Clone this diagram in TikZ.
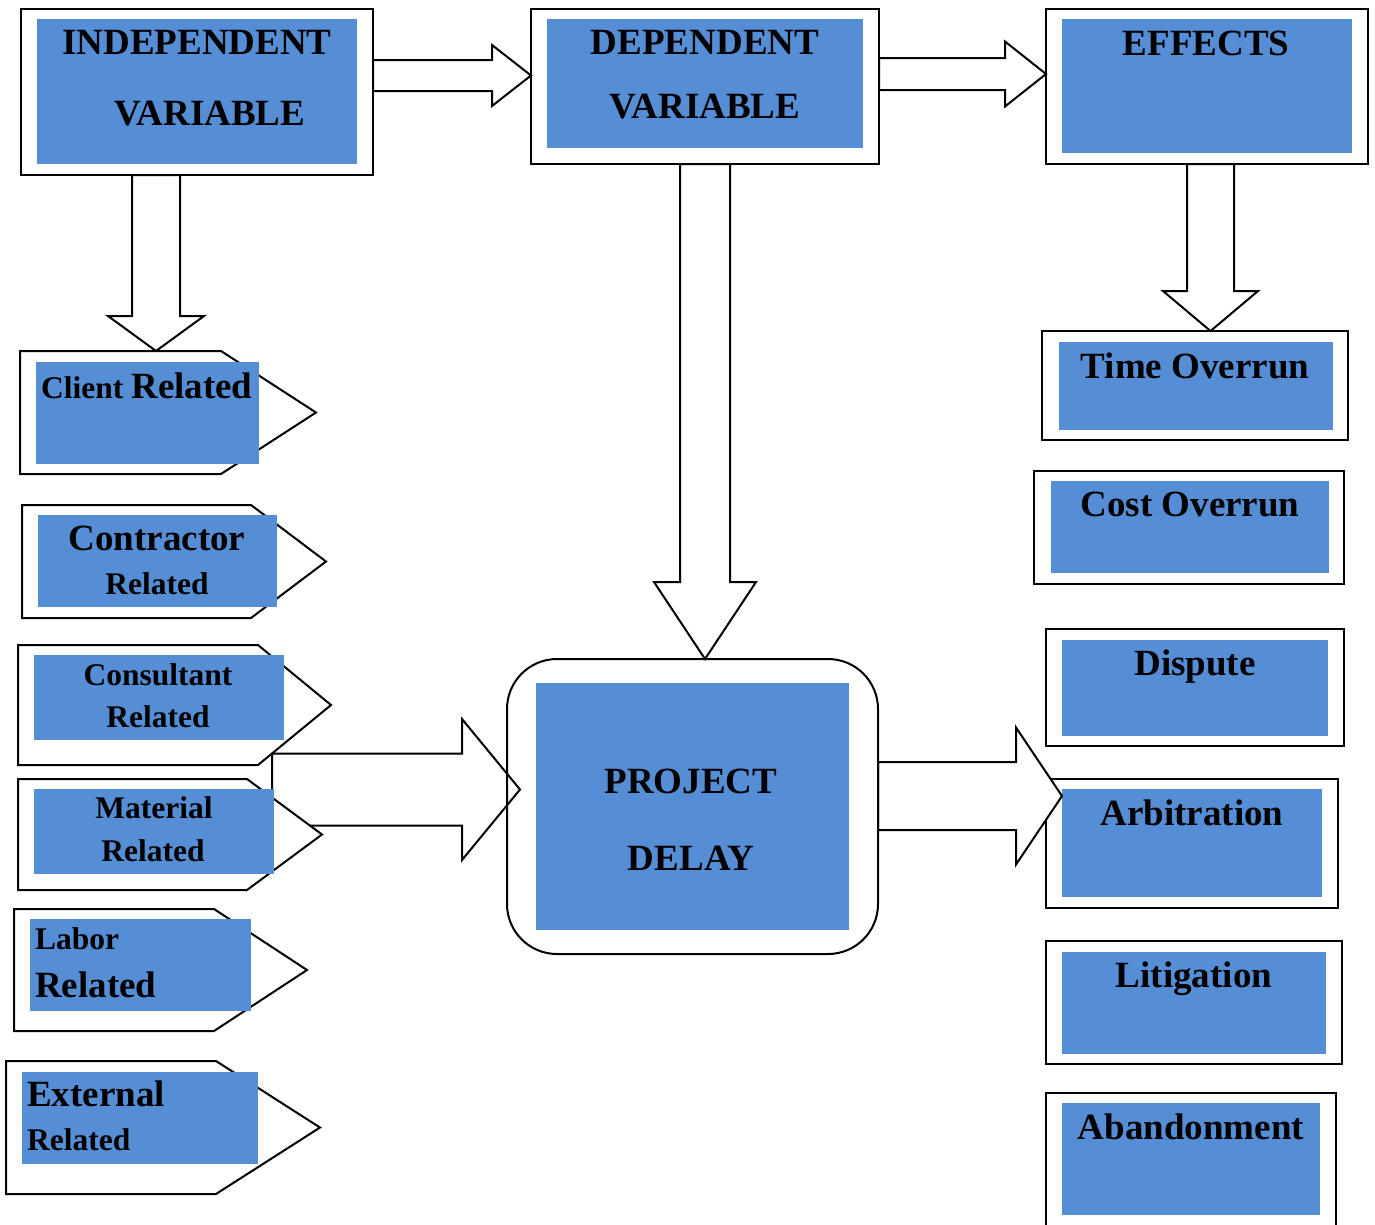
\documentclass[tikz,border=0pt]{standalone}
\usepackage{fontspec}
\setmainfont{Liberation Serif}
\usetikzlibrary{calc}
\definecolor{boxblue}{HTML}{558ED5}
\newcommand{\bigfont}{\fontsize{37}{44}\selectfont\bfseries}
\newcommand{\smallfont}{\fontsize{31.5}{38}\selectfont\bfseries}
% block arrow to the right: tail, tip, shaft half, head half, head length
\newcommand{\harrow}[5]{\draw[blk] ($(#1)+(0,-#3)$) -- ($(#2)+(-#5,-#3)$) -- ($(#2)+(-#5,-#4)$) -- (#2) -- ($(#2)+(-#5,#4)$) -- ($(#2)+(-#5,#3)$) -- ($(#1)+(0,#3)$) -- cycle;}
% block arrow downwards
\newcommand{\varrow}[5]{\draw[blk] ($(#1)+(-#3,0)$) -- ($(#2)+(-#3,-#5)$) -- ($(#2)+(-#4,-#5)$) -- (#2) -- ($(#2)+(#4,-#5)$) -- ($(#2)+(#3,-#5)$) -- ($(#1)+(#3,0)$) -- cycle;}
% pointed tag round a body node
\newcommand{\tagshape}[2]{\draw[tagline] (#1.north west) -- (#1.north east) -- ($(#1.east)+(#2,0)$) -- (#1.south east) -- (#1.south west) -- cycle;}
\begin{document}
\begin{tikzpicture}[x=1pt,y=-1pt,
  outerbox/.style={draw,line width=2pt,fill=white,inner sep=0pt,outer sep=0pt,anchor=north west},
  bluebox/.style={fill=boxblue,inner sep=0pt,outer sep=0pt,anchor=north west},
  tagbody/.style={inner sep=0pt,outer sep=0pt,anchor=north west},
  tagline/.style={draw,line width=2pt,fill=white,line join=miter},
  blk/.style={draw,line width=2pt,fill=white,line join=miter},
  bigtxt/.style={font=\bigfont,inner sep=0pt,anchor=base},
  smalltxt/.style={font=\smallfont,inner sep=0pt,anchor=base}]
\path[use as bounding box] (0,0) rectangle (1375,1224);
\clip (0,0) rectangle (1375,1224);

% top row
\node[outerbox,minimum width=352,minimum height=166] (indep) at (21,9) {};
\node[bluebox,minimum width=320,minimum height=145] (indepin) at (37,19) {};
\node[outerbox,minimum width=348,minimum height=155] (dep) at (531,9) {};
\node[bluebox,minimum width=316,minimum height=129] (depin) at (547,19) {};
\node[outerbox,minimum width=322,minimum height=155] (eff) at (1046,9) {};
\node[bluebox,minimum width=290,minimum height=134] (effin) at (1062,19) {};

% effects column
\node[outerbox,minimum width=306,minimum height=109] (time) at (1042,331) {};
\node[bluebox,minimum width=274,minimum height=88] (timein) at (1059,342) {};
\node[outerbox,minimum width=310,minimum height=113] (cost) at (1034,471) {};
\node[bluebox,minimum width=278,minimum height=92] (costin) at (1051,481) {};
\node[outerbox,minimum width=298,minimum height=117] (disp) at (1046,629) {};
\node[bluebox,minimum width=266,minimum height=96] (dispin) at (1062,640) {};
\node[outerbox,minimum width=292,minimum height=129] (arb) at (1046,779) {};
\node[bluebox,minimum width=260,minimum height=108] (arbin) at (1062,789) {};
\node[outerbox,minimum width=296,minimum height=123] (lit) at (1046,941) {};
\node[bluebox,minimum width=264,minimum height=102] (litin) at (1062,952) {};
\node[outerbox,minimum width=290,minimum height=145] (aband) at (1046,1093) {};
\node[bluebox,minimum width=258,minimum height=112] (abandin) at (1062,1103) {};

% project delay
\node[inner sep=0pt,outer sep=0pt,anchor=north west,minimum width=371,minimum height=295] (pd) at (507,659) {};
\node[bluebox,minimum width=313,minimum height=247] (pdin) at (536,683) {};

% arrows
\coordinate (a1s) at (indep.east |- 0,75.5);
\coordinate (a1t) at (dep.west |- 0,75.5);
\harrow{a1s}{a1t}{15.5}{30.5}{39}
\coordinate (a2s) at (dep.east |- 0,74);
\coordinate (a2t) at (eff.west |- 0,74);
\harrow{a2s}{a2t}{16}{32.5}{41}
\coordinate (a3s) at (pd.east |- 0,796);
\coordinate (a3t) at (arbin.west |- 0,796);
\harrow{a3s}{a3t}{34}{68.5}{46}
\coordinate (merge) at (272,789.5);
\coordinate (a4t) at ($(pd.west |- merge)+(13,0)$);
\harrow{merge}{a4t}{36}{70.5}{58}
\coordinate (v1s) at (indep.south -| 156,0);
\coordinate (v1t) at (156,351);
\varrow{v1s}{v1t}{24}{48}{35}
\coordinate (v2s) at (dep.south -| 705,0);
\coordinate (v2t) at (pd.north -| 705,0);
\varrow{v2s}{v2t}{25}{51}{77}
\coordinate (v3s) at (eff.south -| 1210.5,0);
\coordinate (v3t) at (time.north -| 1210.5,0);
\varrow{v3s}{v3t}{23.5}{47.5}{40}
\draw[line width=2pt,rounded corners=50pt] (pd.north west) rectangle (pd.south east);

% cause tags
\node[tagbody,minimum width=201,minimum height=123] (client) at (20,351) {};
\tagshape{client}{95}
\node[bluebox,minimum width=223,minimum height=102] (clientin) at (36,362) {};
\node[tagbody,minimum width=229,minimum height=113] (contr) at (22,505) {};
\tagshape{contr}{75}
\node[bluebox,minimum width=239,minimum height=92] (contrin) at (38,515) {};
\node[tagbody,minimum width=240,minimum height=120] (consult) at (18,645) {};
\tagshape{consult}{73}
\node[bluebox,minimum width=250,minimum height=85] (consultin) at (34,655) {};
\node[tagbody,minimum width=229,minimum height=111] (mat) at (18,779) {};
\tagshape{mat}{75}
\node[bluebox,minimum width=240,minimum height=85] (matin) at (34,789) {};
\node[tagbody,minimum width=200,minimum height=122] (labor) at (14,909) {};
\tagshape{labor}{93}
\node[bluebox,minimum width=221,minimum height=92] (laborin) at (30,919) {};
\node[tagbody,minimum width=210,minimum height=133] (ext) at (6,1061) {};
\tagshape{ext}{104}
\node[bluebox,minimum width=236,minimum height=92] (extin) at (22,1072) {};

% labels
\node[bigtxt] (indept1) at (197,54.4) {INDEPENDENT};
\node[bigtxt] (indept2) at (210,125.4) {VARIABLE};
\node[bigtxt] (dept1) at (705,54.4) {DEPENDENT};
\node[bigtxt] (dept2) at (705,118.4) {VARIABLE};
\node[bigtxt] (efft) at (1206,55.4) {EFFECTS};
\node[bigtxt] (timet) at (1195,378.4) {Time Overrun};
\node[bigtxt] (costt) at (1190,516.4) {Cost Overrun};
\node[bigtxt] (dispt) at (1195,675.4) {Dispute};
\node[bigtxt] (arbt) at (1192,825.4) {Arbitration};
\node[bigtxt] (litt) at (1194,987.4) {Litigation};
\node[bigtxt] (abandt) at (1191,1139.4) {Abandonment};
\node[bigtxt] (pdt1) at (691,793.4) {PROJECT};
\node[bigtxt] (pdt2) at (691,870.4) {DELAY};
\node[smalltxt,anchor=base west] (clientt) at (41,398) {Client {\bigfont Related}};
\node[bigtxt] (contrt1) at (157,550.4) {Contractor};
\node[smalltxt] (contrt2) at (157,594.5) {Related};
\node[smalltxt] (consultt1) at (158,685.5) {Consultant};
\node[smalltxt] (consultt2) at (158,727.5) {Related};
\node[smalltxt] (matt1) at (154,818.5) {Material};
\node[smalltxt] (matt2) at (153,861.5) {Related};
\node[smalltxt,anchor=base west] (labort1) at (35,949.5) {Labor};
\node[bigtxt,anchor=base west] (labort2) at (35,997.4) {Related};
\node[bigtxt,anchor=base west] (extt1) at (27,1106.4) {External};
\node[smalltxt,anchor=base west] (extt2) at (27,1150.5) {Related};
\end{tikzpicture}
\end{document}
